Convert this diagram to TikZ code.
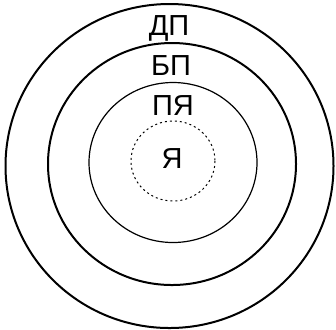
\documentclass[tikz,border=0pt]{standalone}
\usepackage{fontspec}
\setmainfont{Liberation Sans}
\begin{document}
\begin{tikzpicture}[x=0.5pt, y=-0.5pt, thick,
    lbl/.style={font=\fontsize{14.5}{17}\selectfont, anchor=base, inner sep=0pt}]
    \useasboundingbox (0,0) rectangle (336,329);

    % Circles
    \draw[line width=1pt] (169.5,166) ellipse [x radius=164, y radius=162];
    \draw[line width=1pt] (172,164) ellipse [x radius=124, y radius=121];
    \draw[line width=0.6pt] (173,162.5) ellipse [x radius=84, y radius=80];
    \draw[line width=0.5pt, dash pattern=on 1pt off 1.5pt] (173,161) ellipse [x radius=42, y radius=40];

    % Labels
    \node[lbl] (dp) at (169,35.5) {ДП};
    \node[lbl] (bp) at (171,75) {БП};
    \node[lbl] (pya) at (173,115) {ПЯ};
    \node[lbl] (ya) at (172,168) {Я};
\end{tikzpicture}
\end{document}
